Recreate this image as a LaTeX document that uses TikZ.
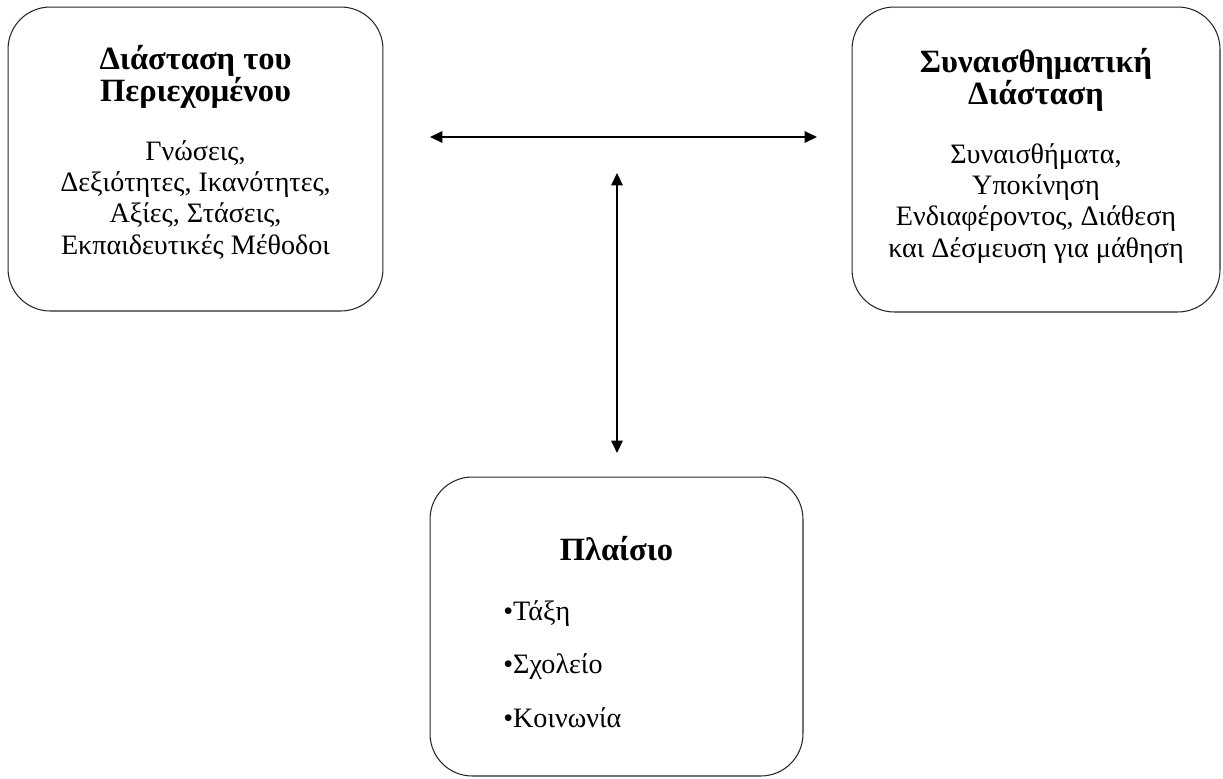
\documentclass[tikz,border=0pt]{standalone}
\usepackage{fontspec}
\setmainfont{Liberation Serif}
\usetikzlibrary{positioning,arrows.meta}
\tikzset{font=\fontsize{16}{17.8}\selectfont}

\begin{document}
\begin{tikzpicture}[x=0.02cm, y=-0.02cm,
	dimbox/.style={draw=black!85, line width=0.6pt, rounded corners=24pt},
	dimtitle/.style={align=center, inner sep=0pt, font=\fontsize{18.5}{18.4}\selectfont\bfseries},
	dimtext/.style={align=center, inner sep=0pt},
	link/.style={line width=0.8pt, {Triangle[length=7pt,width=6.5pt]}-{Triangle[length=7pt,width=6.5pt]}}]
	\useasboundingbox (0,0) rectangle (1223,778);

	% the three boxes
	\node[dimbox, minimum width=7.5cm, minimum height=6.08cm] (content) at (195.5,159) {};
	\node[dimbox, minimum width=7.36cm, minimum height=6.1cm] (affect) at (1036,159.5) {};
	\node[dimbox, minimum width=7.46cm, minimum height=5.98cm] (context) at (616.5,626.5) {};

	% texts
	\node[dimtitle, anchor=north] (content-t) at (195.5,45) {Διάσταση του\\Περιεχομένου};
	\node[dimtext, anchor=north] (content-b) at (195.5,140)
		{Γνώσεις,\\Δεξιότητες, Ικανότητες,\\Αξίες, Στάσεις,\\Εκπαιδευτικές Μέθοδοι};
	\node[dimtitle, anchor=north] (affect-t) at (1036,48) {Συναισθηματική\\Διάσταση};
	\node[dimtext, anchor=north] (affect-b) at (1036,143)
		{Συναισθήματα,\\Υποκίνηση\\Ενδιαφέροντος, Διάθεση\\και Δέσμευση για μάθηση};
	\node[dimtitle, anchor=base] (context-t) at (616.5,560) {Πλαίσιο};
	\node[dimtext, align=left, anchor=north west] (context-b) at (503,600)
		{•Τάξη\\[12.6pt]•Σχολείο\\[12.6pt]•Κοινωνία};

	% arrows
	\coordinate (hl) at (430,137);
	\coordinate (hr) at (817,137);
	\coordinate (vt) at (617,173);
	\coordinate (vb) at (617,453);
	\draw[link] (hl) -- (hr);
	\draw[link] (vt) -- (vb);
\end{tikzpicture}
\end{document}
